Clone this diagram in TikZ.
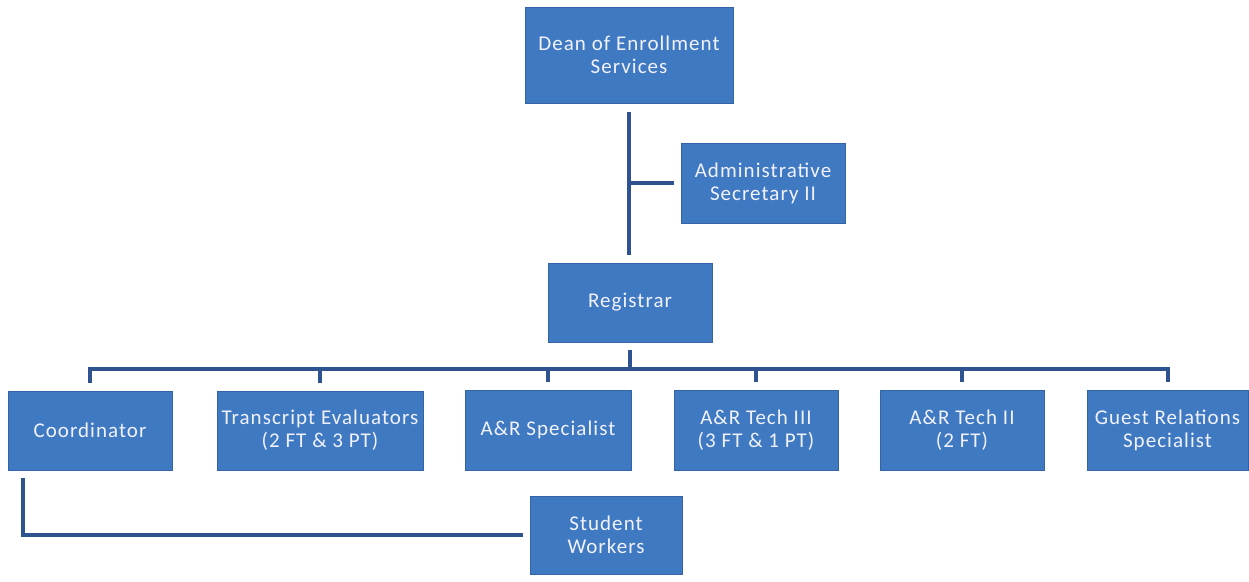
\documentclass[tikz,border=0pt]{standalone}
\usepackage{fontspec}
\setmainfont{Carlito}
\newfontfamily\boxfont[LetterSpace=5]{Carlito}
\usetikzlibrary{calc}
\definecolor{boxblue}{RGB}{62,121,194}
\definecolor{boxedge}{RGB}{52,100,165}
\definecolor{linkblue}{RGB}{47,82,145}
\tikzset{
  orgbox/.style={draw=boxedge, line width=1pt, fill=boxblue, text=white!95!blue,
    font=\boxfont\fontsize{21}{23}\selectfont, align=center, inner sep=0pt},
  conn/.style={draw=linkblue, line width=4pt}
}
\begin{document}
\begin{tikzpicture}[x=1pt,y=-1pt]
\useasboundingbox (0,0) rectangle (1249,581);
\node[orgbox, minimum width=208pt, minimum height=96pt] (dean) at (629,55) {Dean of Enrollment\\Services};
\node[orgbox, minimum width=164pt, minimum height=80pt] (admin) at (763,183) {Administrative\\Secretary II};
\node[orgbox, minimum width=164pt, minimum height=79pt] (reg) at (630,302.5) {Registrar};
\node[orgbox, minimum width=164pt, minimum height=79pt] (coord) at (90,430.5) {Coordinator};
\node[orgbox, minimum width=206pt, minimum height=79pt] (trans) at (320,430.5) {Transcript Evaluators\\(2 FT \& 3 PT)};
\node[orgbox, minimum width=166pt, minimum height=80pt] (spec) at (548,430) {A\&R Specialist};
\node[orgbox, minimum width=164pt, minimum height=80pt] (tech3) at (756,430) {A\&R Tech III\\(3 FT \& 1 PT)};
\node[orgbox, minimum width=164pt, minimum height=80pt] (tech2) at (962,430) {A\&R Tech II\\(2 FT)};
\node[orgbox, minimum width=161pt, minimum height=80pt] (guest) at (1167.5,430) {Guest Relations\\Specialist};
\node[orgbox, minimum width=152pt, minimum height=78pt] (stud) at (606,535) {Student\\Workers};
% connectors
\draw[conn, shorten <=8pt, shorten >=8pt] (dean.south) -- (dean.south |- reg.north);
\draw[conn, shorten >=7pt] (dean.south |- admin.west) -- (admin.west);
\coordinate (bar) at (630,369);
\draw[conn, shorten <=7pt] (reg.south) -- (reg.south |- bar);
\draw[conn, line cap=rect] (coord.north |- bar) -- (guest.north |- bar);
\foreach \n in {coord,trans,spec,tech3,tech2,guest}
  \draw[conn, shorten >=8pt] (\n.north |- bar) -- (\n.north);
\coordinate (cstart) at ($(coord.south west)+(15,0)$);
\coordinate (cturn) at (cstart |- stud.west);
\draw[conn, shorten <=7pt, shorten >=7pt] (cstart) -- (cturn) -- (stud.west);
\end{tikzpicture}
\end{document}
